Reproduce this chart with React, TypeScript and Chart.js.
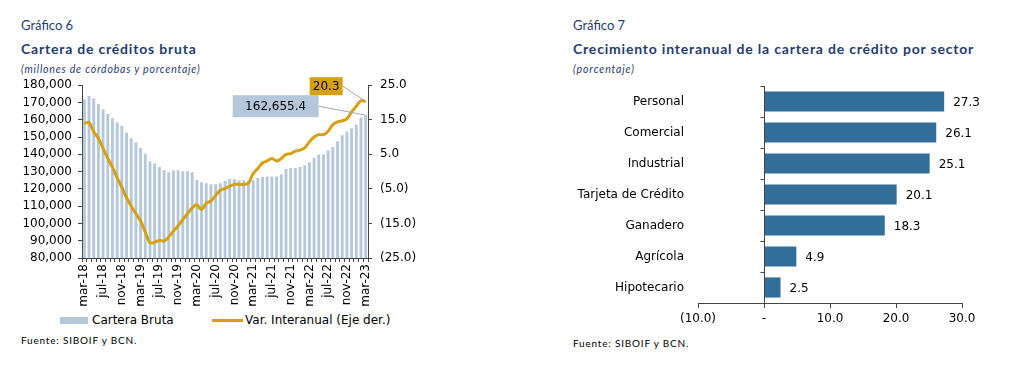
import React, { useEffect, useRef } from "react";
import { Chart, registerables } from "chart.js";

Chart.register(...registerables);

// ---------- Gráfico 6 data ----------
const months = [
  "mar-18", "abr-18", "may-18", "jun-18", "jul-18", "ago-18", "sep-18", "oct-18", "nov-18", "dic-18",
  "ene-19", "feb-19", "mar-19", "abr-19", "may-19", "jun-19", "jul-19", "ago-19", "sep-19", "oct-19",
  "nov-19", "dic-19", "ene-20", "feb-20", "mar-20", "abr-20", "may-20", "jun-20", "jul-20", "ago-20",
  "sep-20", "oct-20", "nov-20", "dic-20", "ene-21", "feb-21", "mar-21", "abr-21", "may-21", "jun-21",
  "jul-21", "ago-21", "sep-21", "oct-21", "nov-21", "dic-21", "ene-22", "feb-22", "mar-22", "abr-22",
  "may-22", "jun-22", "jul-22", "ago-22", "sep-22", "oct-22", "nov-22", "dic-22", "ene-23", "feb-23",
  "mar-23",
];

const carteraBruta = [
  171700, 173800, 172500, 169200, 165900, 163400, 160900, 158400, 156400, 152600,
  149300, 147000, 143700, 140400, 136000, 134700, 132700, 130800, 129600, 130800,
  130800, 130200, 130200, 129600, 125200, 123800, 123300, 122700, 122700, 123300,
  124600, 125700, 125700, 125000, 125000, 124600, 125200, 126300, 126900, 127100,
  127100, 127100, 128300, 131500, 132100, 132100, 132700, 133700, 135400, 137900,
  139900, 139900, 142400, 144300, 147600, 151000, 153000, 154900, 157200, 161300,
  162655.4,
];

const varInteranual = [
  13.9, 14.2, 11.5, 9.6, 6.7, 3.8, 1.2, -1.8, -4.6, -7.5,
  -10.0, -12.2, -14.3, -17.5, -20.6, -20.4, -19.9, -20.1, -18.9, -17.2,
  -15.7, -13.9, -12.2, -10.5, -9.6, -11.0, -9.1, -8.5, -6.9, -5.4,
  -4.9, -4.2, -3.7, -3.7, -3.7, -3.3, -0.6, 0.9, 2.5, 3.1,
  3.8, 3.1, 3.8, 5.0, 5.2, 5.9, 6.2, 6.9, 8.6, 10.0,
  10.7, 10.7, 11.7, 13.6, 14.4, 14.7, 15.3, 17.3, 18.9, 20.5,
  20.3,
];

const seriesNames = ["Cartera Bruta", "Var. Interanual (Eje der.)"];

// ---------- Gráfico 7 data ----------
const sectors = ["Personal", "Comercial", "Industrial", "Tarjeta de Crédito", "Ganadero", "Agrícola", "Hipotecario"];
const sectorGrowth = [27.3, 26.1, 25.1, 20.1, 18.3, 4.9, 2.5];

// ---------- styles ----------
const FONT = "'DejaVu Sans', Verdana, sans-serif";
const TITLE_FONT = "Lato, 'Open Sans', sans-serif";
const TITLE_COLOR = "#1f3c6e";
const LIGHT_BAR = "#b4c7db";
const GOLD = "#d6a00e";
const DARK_BAR = "#336e9b";
const AXIS = "#444444";

const fmtParen = (v: number) => (v < 0 ? `(${Math.abs(v).toFixed(1)})` : v.toFixed(1));

const annotationPlugin = {
  id: "lastValueBoxes",
  afterDatasetsDraw(chart: any) {
    const ctx = chart.ctx;
    const n = carteraBruta.length - 1;
    const bar = chart.getDatasetMeta(0).data[n];
    const pt = chart.getDatasetMeta(1).data[n];
    const area = chart.chartArea;
    ctx.save();
    ctx.font = `12px ${FONT}`;
    ctx.textBaseline = "middle";
    ctx.textAlign = "center";

    // bar value box
    const bw = 86, bh = 22;
    const bx = bar.x - 133, by = area.top + 10;
    ctx.strokeStyle = "#a6a6a6";
    ctx.lineWidth = 1;
    ctx.beginPath();
    ctx.moveTo(bx + bw, by + bh / 2);
    ctx.lineTo(bar.x, bar.y);
    ctx.stroke();
    ctx.fillStyle = LIGHT_BAR;
    ctx.fillRect(bx, by, bw, bh);
    ctx.fillStyle = "#000";
    ctx.fillText(
      carteraBruta[n].toLocaleString("en-US", { minimumFractionDigits: 1, maximumFractionDigits: 1 }),
      bx + bw / 2,
      by + bh / 2 + 1
    );

    // line value box
    const gw = 33, gh = 18;
    const gx = pt.x - 56, gy = area.top - 8;
    ctx.beginPath();
    ctx.moveTo(gx + gw, gy + gh / 2);
    ctx.lineTo(pt.x, pt.y);
    ctx.stroke();
    ctx.fillStyle = GOLD;
    ctx.fillRect(gx, gy, gw, gh);
    ctx.fillStyle = "#000";
    ctx.fillText(varInteranual[n].toFixed(1), gx + gw / 2, gy + gh / 2 + 1);
    ctx.restore();
  },
};

const sectorPlugin = {
  id: "sectorDecor",
  afterDatasetsDraw(chart: any) {
    const ctx = chart.ctx;
    const xs = chart.scales.x;
    const ys = chart.scales.y;
    const area = chart.chartArea;
    const x0 = Math.round(xs.getPixelForValue(0)) + 0.5;
    ctx.save();
    ctx.strokeStyle = AXIS;
    ctx.lineWidth = 1;
    ctx.beginPath();
    ctx.moveTo(x0, area.top);
    ctx.lineTo(x0, area.bottom);
    const step = (area.bottom - area.top) / sectors.length;
    for (let k = 0; k < sectors.length; k++) {
      const yb = Math.round(ys.getPixelForValue(k) - step / 2) + 0.5;
      ctx.moveTo(x0 - 4, yb);
      ctx.lineTo(x0, yb);
    }
    ctx.stroke();
    ctx.font = `12px ${FONT}`;
    ctx.fillStyle = "#000";
    ctx.textBaseline = "middle";
    ctx.textAlign = "left";
    chart.getDatasetMeta(0).data.forEach((el: any, i: number) => {
      ctx.fillText(sectorGrowth[i].toFixed(1), el.x + 9, el.y + 1);
    });
    ctx.restore();
  },
};

const textBase: React.CSSProperties = { position: "absolute", whiteSpace: "nowrap", color: TITLE_COLOR, fontFamily: TITLE_FONT };
const legendText: React.CSSProperties = { position: "absolute", whiteSpace: "nowrap", color: "#000", fontFamily: FONT, fontSize: 12, lineHeight: "14px" };

export default function App() {
  const ref1 = useRef<HTMLCanvasElement>(null);
  const ref2 = useRef<HTMLCanvasElement>(null);

  useEffect(() => {
    const tickFont = { family: FONT, size: 12 };
    const c1 = new Chart(ref1.current as HTMLCanvasElement, {
      type: "bar",
      data: {
        labels: months,
        datasets: [
          {
            type: "bar",
            label: seriesNames[0],
            data: carteraBruta,
            backgroundColor: LIGHT_BAR,
            yAxisID: "y",
            order: 2,
            barPercentage: 0.62,
            categoryPercentage: 1,
          },
          {
            type: "line",
            label: seriesNames[1],
            data: varInteranual,
            borderColor: GOLD,
            backgroundColor: GOLD,
            borderWidth: 3,
            pointRadius: 0,
            tension: 0.35,
            yAxisID: "y1",
            order: 1,
          },
        ] as any,
      },
      options: {
        responsive: false,
        animation: false,
        devicePixelRatio: 1,
        layout: { padding: { top: 15, left: 20, right: 0, bottom: 0 } },
        plugins: {
          tooltip: { enabled: false },
          legend: { display: false },
        },
        scales: {
          x: {
            grid: { display: true, drawOnChartArea: false, drawTicks: true, tickLength: 4, color: AXIS, offset: true },
            border: { display: true, color: AXIS },
            ticks: {
              autoSkip: false,
              minRotation: 90,
              maxRotation: 90,
              padding: 2,
              color: "#000",
              font: tickFont,
              callback: (_v: any, i: number) => (i % 4 === 0 ? months[i] : ""),
            },
            afterFit: (s: any) => {
              s.height = 52;
            },
          },
          y: {
            position: "left",
            min: 80000,
            max: 180000,
            ticks: {
              stepSize: 10000,
              autoSkip: false,
              padding: 6,
              color: "#000",
              font: tickFont,
              callback: (v: any) => Number(v).toLocaleString("en-US"),
            },
            grid: { drawOnChartArea: false, tickLength: 4, color: AXIS },
            border: { color: AXIS },
            afterFit: (s: any) => {
              s.width = 62;
            },
          },
          y1: {
            position: "right",
            min: -25,
            max: 25,
            ticks: {
              stepSize: 10,
              autoSkip: false,
              padding: 8,
              color: "#000",
              font: tickFont,
              callback: (v: any) => fmtParen(Number(v)),
            },
            grid: { drawOnChartArea: false, tickLength: 4, color: AXIS },
            border: { color: AXIS },
            afterFit: (s: any) => {
              s.width = 62;
            },
          },
        },
      } as any,
      plugins: [annotationPlugin],
    });

    const c2 = new Chart(ref2.current as HTMLCanvasElement, {
      type: "bar",
      data: {
        labels: sectors,
        datasets: [
          {
            label: "Crecimiento interanual",
            data: sectorGrowth,
            backgroundColor: DARK_BAR,
            borderWidth: 0,
            barPercentage: 0.65,
            categoryPercentage: 1,
          },
        ],
      },
      options: {
        indexAxis: "y",
        responsive: false,
        animation: false,
        devicePixelRatio: 1,
        layout: { padding: { top: 8, left: 0, right: 38, bottom: 0 } },
        plugins: { legend: { display: false }, tooltip: { enabled: false } },
        scales: {
          x: {
            type: "linear",
            min: -10,
            max: 30,
            ticks: {
              stepSize: 10,
              padding: 4,
              color: "#000",
              font: tickFont,
              callback: (v: any) => (Number(v) === 0 ? "-" : fmtParen(Number(v))),
            },
            grid: { drawOnChartArea: false, tickLength: 5, color: AXIS },
            border: { color: AXIS },
            afterFit: (s: any) => {
              s.height = 26;
            },
          },
          y: {
            type: "category",
            grid: { display: false, drawTicks: true, tickLength: 14 },
            border: { display: false },
            ticks: { padding: 0, color: "#000", font: tickFont },
            afterFit: (s: any) => {
              s.width = 138;
            },
          },
        },
      } as any,
      plugins: [sectorPlugin],
    });

    return () => {
      c1.destroy();
      c2.destroy();
    };
  }, []);

  return (
    <div style={{ position: "absolute", left: 0, top: 0, width: 1020, height: 366, background: "#fff", overflow: "hidden" }}>
      {/* Gráfico 6 */}
      <div style={{ ...textBase, left: 21, top: 17, fontSize: 13, lineHeight: "16px" }}>Gráfico 6</div>
      <div style={{ ...textBase, left: 21, top: 41, fontSize: 14, fontWeight: 700, letterSpacing: "0.8px", lineHeight: "16px" }}>
        Cartera de créditos bruta
      </div>
      <div style={{ ...textBase, left: 21, top: 62, fontSize: 10.5, fontStyle: "italic", letterSpacing: "0.8px", lineHeight: "14px" }}>
        (millones de córdobas y porcentaje)
      </div>
      <canvas ref={ref1} width={430} height={240} style={{ position: "absolute", left: 0, top: 70, width: 430, height: 240 }} />
      {/* legend */}
      <div style={{ position: "absolute", left: 60, top: 317, width: 28, height: 7, background: LIGHT_BAR }} />
      <div style={{ ...legendText, left: 92, top: 313 }}>{seriesNames[0]}</div>
      <div style={{ position: "absolute", left: 212, top: 319, width: 31, height: 3, background: GOLD }} />
      <div style={{ ...legendText, left: 245, top: 313 }}>{seriesNames[1]}</div>
      <div style={{ ...textBase, left: 21, top: 333, fontSize: 10, letterSpacing: "0.8px", lineHeight: "14px", color: "#000" }}>
        Fuente: SIBOIF y BCN.
      </div>

      {/* Gráfico 7 */}
      <div style={{ ...textBase, left: 573, top: 17, fontSize: 13, lineHeight: "16px" }}>Gráfico 7</div>
      <div style={{ ...textBase, left: 573, top: 41, fontSize: 14, fontWeight: 700, letterSpacing: "0.8px", lineHeight: "16px" }}>
        Crecimiento interanual de la cartera de crédito por sector
      </div>
      <div style={{ ...textBase, left: 573, top: 62, fontSize: 10.5, fontStyle: "italic", letterSpacing: "0.9px", lineHeight: "14px" }}>
        (porcentaje)
      </div>
      <canvas ref={ref2} width={440} height={251} style={{ position: "absolute", left: 560, top: 78, width: 440, height: 251 }} />
      <div style={{ ...textBase, left: 573, top: 336, fontSize: 10, letterSpacing: "0.8px", lineHeight: "14px", color: "#000" }}>
        Fuente: SIBOIF y BCN.
      </div>
    </div>
  );
}
